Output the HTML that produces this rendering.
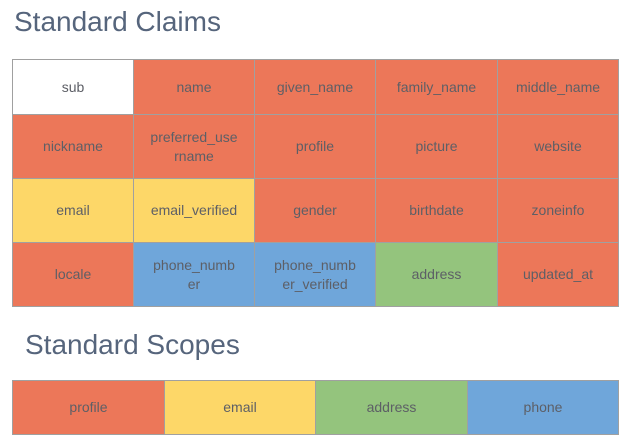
<!DOCTYPE html>
<html><head><meta charset="utf-8"><style>
body{margin:0;width:627px;height:444px;background:#fff;overflow:hidden;position:relative;font-family:"Liberation Sans",Arial,sans-serif}
.t{position:absolute;color:#56657c;font-size:28px;white-space:nowrap}
.c{position:absolute;box-sizing:border-box;border:1px solid #a0a0a0;display:flex;align-items:center;justify-content:center;text-align:center;color:#5d5f66;font-size:14px;line-height:19px;white-space:nowrap}
.o{background:#ec7759}.y{background:#fdd768}.g{background:#94c47d}.b{background:#6fa6da}.w{background:#fff}
</style></head><body>
<div class="t" style="left:14px;top:6px">Standard Claims</div>
<div class="t" style="left:25px;top:329px">Standard Scopes</div>
<script>
const claims=[["sub","name","given_name","family_name","middle_name"],["nickname","preferred_username","profile","picture","website"],["email","email_verified","gender","birthdate","zoneinfo"],["locale","phone_number","phone_number_verified","address","updated_at"]];
const claimColors=[["w","o","o","o","o"],["o","o","o","o","o"],["y","y","o","o","o"],["o","b","b","g","o"]];
const rowTops=[59,114,178,242,306];
const colLefts=[12,133,254,375,497,618];
const scopes=["profile","email","address","phone"];
const scopeColors=["o","y","g","b"];
const scopeLefts=[12,164,315,467,618];
const wraps={"preferred_username":"preferred_use<br>rname","phone_number":"phone_numb<br>er","phone_number_verified":"phone_numb<br>er_verified"};
function cell(txt,cls,x,y,w,h,name){
  const d=document.createElement('div');
  d.className='c '+cls;
  d.style.cssText=`left:${x}px;top:${y}px;width:${w+1}px;height:${h+1}px`;
  if(wraps[txt]) d.innerHTML=wraps[txt]; else d.textContent=txt;
  
  
  document.body.appendChild(d);
}
claims.forEach((row,r)=>row.forEach((t,c)=>{
  cell(t,claimColors[r][c],colLefts[c],rowTops[r],colLefts[c+1]-colLefts[c],rowTops[r+1]-rowTops[r],'claim-'+t.replace(/_/g,'-'));
}));
scopes.forEach((s,i)=>cell(s,scopeColors[i],scopeLefts[i],380,scopeLefts[i+1]-scopeLefts[i],54,'scope-'+s));
</script>
</body></html>
